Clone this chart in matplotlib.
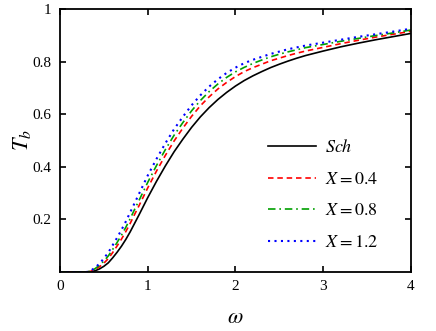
import numpy as np
import matplotlib
matplotlib.use("Agg")
import matplotlib.pyplot as plt

# values
w = [0, 0.3, 0.35, 0.4, 0.45, 0.5, 0.55, 0.6, 0.65, 0.7, 0.75, 0.8, 0.85, 0.9,
     1.0, 1.1, 1.2, 1.3, 1.4, 1.5, 1.6, 1.7, 1.8, 1.9, 2.0, 2.1, 2.2, 2.3, 2.4,
     2.5, 2.6, 2.7, 2.8, 3.0, 3.2, 3.4, 3.6, 3.8, 4.0]
T_sch = [0, 0, 0.001, 0.005, 0.012, 0.022, 0.035, 0.054, 0.075, 0.098, 0.124,
         0.153, 0.185, 0.217, 0.283, 0.345, 0.403, 0.457, 0.505, 0.55, 0.59,
         0.625, 0.656, 0.683, 0.707, 0.728, 0.746, 0.762, 0.777, 0.79, 0.802,
         0.813, 0.823, 0.84, 0.856, 0.87, 0.883, 0.895, 0.907]
T_x04 = [0, 0, 0.003, 0.01, 0.02, 0.034, 0.051, 0.074, 0.099, 0.125, 0.154,
         0.185, 0.219, 0.252, 0.32, 0.384, 0.443, 0.498, 0.547, 0.592, 0.632,
         0.666, 0.696, 0.721, 0.743, 0.762, 0.777, 0.79, 0.803, 0.813, 0.823,
         0.832, 0.84, 0.854, 0.868, 0.881, 0.893, 0.904, 0.915]
T_x08 = [0, 0, 0.004, 0.013, 0.026, 0.042, 0.061, 0.086, 0.112, 0.14, 0.17,
         0.203, 0.238, 0.272, 0.341, 0.405, 0.465, 0.52, 0.568, 0.613, 0.652,
         0.686, 0.715, 0.74, 0.761, 0.778, 0.793, 0.806, 0.818, 0.828, 0.837,
         0.845, 0.853, 0.865, 0.877, 0.888, 0.899, 0.909, 0.92]
T_x12 = [0, 0, 0.005, 0.017, 0.032, 0.052, 0.074, 0.102, 0.13, 0.16, 0.192,
         0.227, 0.262, 0.297, 0.367, 0.43, 0.489, 0.543, 0.59, 0.634, 0.672,
         0.705, 0.733, 0.757, 0.777, 0.794, 0.807, 0.818, 0.829, 0.838, 0.847,
         0.854, 0.861, 0.872, 0.883, 0.894, 0.904, 0.914, 0.925]

plt.rcParams["font.family"] = "Liberation Serif"
plt.rcParams["mathtext.fontset"] = "stix"

fig = plt.figure(figsize=(4.36, 3.31), dpi=100)
ax = fig.add_axes([0.1376, 0.178, 0.805, 0.795])

ax.plot(w, T_sch, color="black", lw=1.2, label="$Sch$")
ax.plot(w, T_x04, color="red", lw=1.2, ls=(0, (3.3, 2.3)), label="$X = 0.4$")
ax.plot(w, T_x08, color="#00a000", lw=1.2, ls=(0, (4.5, 2.3, 1, 2.3)), label="$X = 0.8$")
ax.plot(w, T_x12, color="blue", lw=1.5, ls=(0, (1, 2.1)), label="$X = 1.2$")

ax.set_xlim(0, 4)
ax.set_ylim(0, 1)
ax.set_xticks([0, 1, 2, 3, 4])
ax.set_xticklabels(["0", "1", "2", "3", "4"])
ax.set_yticks([0.2, 0.4, 0.6, 0.8, 1])
ax.set_yticklabels(["0.2", "0.4", "0.6", "0.8", "1"])
ax.tick_params(direction="in", top=True, right=True, length=4, width=1.2,
               labelsize=11, pad=6)
for s in ax.spines.values():
    s.set_linewidth(1.3)

ax.set_xlabel(r"$\omega$", fontsize=16)
ax.set_ylabel(r"$T_b$", fontsize=16)
ax.xaxis.set_label_coords(0.5, -0.14)
ax.yaxis.set_label_coords(-0.077, 0.5)

ax.legend(loc="lower right", bbox_to_anchor=(0.953, 0.019), frameon=False,
          fontsize=13, handlelength=2.65, labelspacing=0.8, handletextpad=0.5)

fig.savefig("out.png", dpi=100)
